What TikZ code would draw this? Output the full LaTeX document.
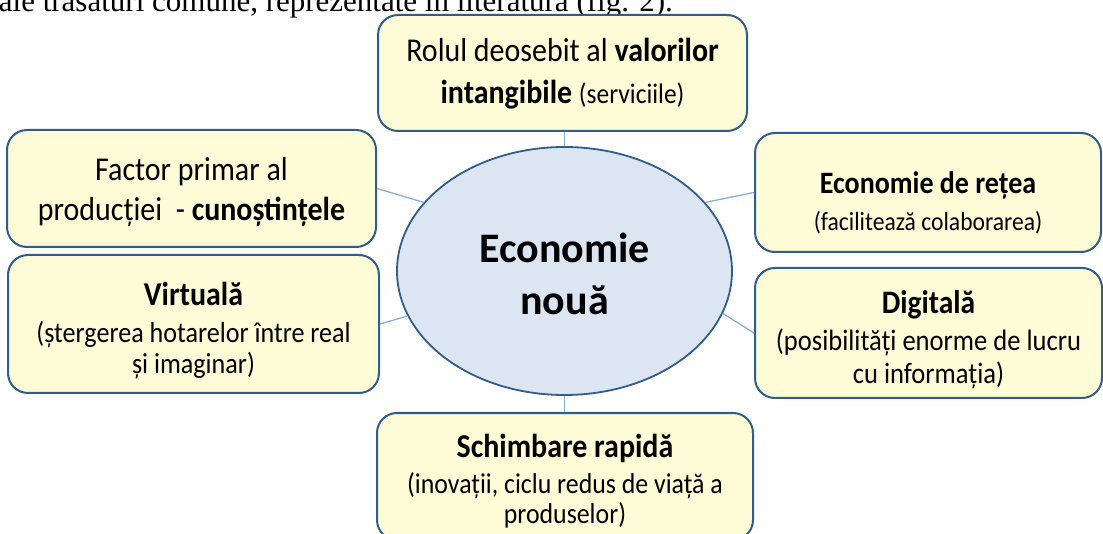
\documentclass[tikz,border=0pt]{standalone}
\usepackage{fontspec}
\setmainfont{Carlito}
\newfontfamily\boxfont{Carlito}[FakeStretch=0.9]
\newfontfamily\introfont{Liberation Serif}
\usepackage{tikz}
\usetikzlibrary{shapes.geometric}
\usepackage{xcolor}
\definecolor{boxfill}{HTML}{FDFCD6}
\definecolor{boxline}{HTML}{325C89}
\definecolor{corefill}{HTML}{DCE6F2}
\definecolor{linkblue}{HTML}{86AEDC}

\begin{document}
\begin{tikzpicture}[x=1pt,y=-1pt,
    idea/.style={shape=rectangle,
      rounded corners=20pt,
      draw=boxline,
      line width=2pt,
      fill=boxfill,
      align=center,
      inner sep=0pt},
    core/.style={shape=ellipse,
      draw=boxline,
      line width=1.8pt,
      fill=corefill,
      align=center,
      inner sep=0pt},
    link/.style={draw=linkblue,line width=1.3pt}]
    %\draw[help lines,step=50] (0,0) grid (1103,534); % Only for Development
    \useasboundingbox (0,0) rectangle (1103,534);
    \clip (0,0) rectangle (1103,534);

    % line of the page above the figure
    \node[anchor=base east,
      inner sep=0pt,
      font=\introfont\fontsize{31}{36}\selectfont] (intro) at (673,12)
      {ale trăsături comune, reprezentate în literatură (fig. 2).};

    % centre
    \node[core,
      minimum width=335pt,
      minimum height=248pt,
      font=\bfseries\fontsize{42}{52}\selectfont] (eco) at (564.5,271)
      {\rule{0pt}{36pt}Economie\\nouă};

    % the six features (the rule in the first line only lowers the text)
    \node[idea,
      minimum width=369pt,
      minimum height=116pt,
      font=\boxfont\fontsize{33.3}{42}\selectfont] (rol) at (562.5,73)
      {\rule{0pt}{24pt}Rolul deosebit al \textbf{valorilor}\\
       \textbf{intangibile} {\fontsize{28.3}{42}\selectfont(serviciile)}};
    \node[idea,
      minimum width=369pt,
      minimum height=117pt,
      font=\boxfont\fontsize{33.3}{40}\selectfont] (factor) at (191.5,188.5)
      {\rule{0pt}{30pt}Factor primar al\\producției~~- \textbf{cunoștințele}};
    \node[idea,
      minimum width=346pt,
      minimum height=119pt,
      font=\boxfont\fontsize{26.2}{37}\selectfont] (retea) at (928,192.5)
      {\rule{0pt}{43pt}{\bfseries\fontsize{31.1}{37}\selectfont Economie de rețea}\\
       (facilitează colaborarea)};
    \node[idea,
      minimum width=371pt,
      minimum height=138pt,
      font=\boxfont\fontsize{29}{31}\selectfont] (virt) at (193.5,324)
      {\rule{0pt}{36pt}{\bfseries\fontsize{33.3}{31}\selectfont Virtuală}\\[6pt]
       (ștergerea hotarelor între real\\ și imaginar)};
    \node[idea,
      minimum width=347pt,
      minimum height=130pt,
      font=\boxfont\fontsize{29.5}{33}\selectfont] (digi) at (928.5,333)
      {\rule{0pt}{36pt}{\bfseries\fontsize{32.8}{33}\selectfont Digitală}\\[4pt]
       (posibilități enorme de lucru\\ cu informația)};
    \node[idea,
      minimum width=376pt,
      minimum height=127pt,
      font=\boxfont\fontsize{28.7}{30}\selectfont] (schimb) at (565,476.5)
      {\rule{0pt}{33pt}{\bfseries\fontsize{33.3}{30}\selectfont Schimbare rapidă}\\[6pt]
       (inovații, ciclu redus de viață a\\ produselor)};

    % connectors
    \draw[link] (eco.north |- rol.south) -- (eco.north);
    \draw[link] (factor.east) -- (eco.154);
    \draw[link] (eco.26) -- (retea.west);
    \draw[link] (virt.east) -- (eco.196);
    \draw[link] (eco.-15) -- (digi.west);
    \draw[link] (eco.south) -- (eco.south |- schimb.north);

  \end{tikzpicture}
\end{document}
